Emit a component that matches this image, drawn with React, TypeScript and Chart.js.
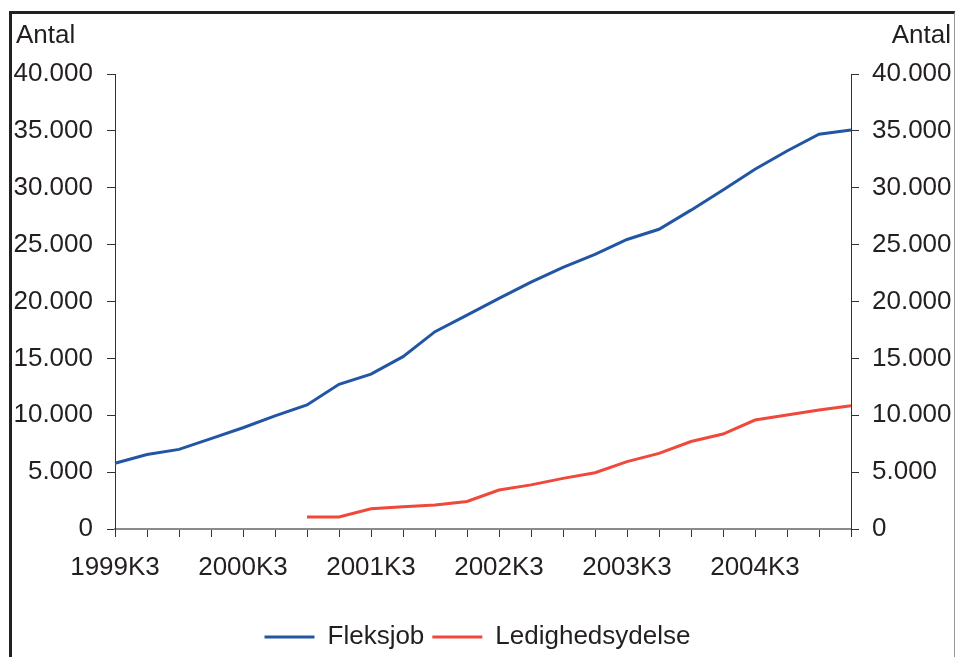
import React, { useEffect, useRef } from "react";
import { Chart, registerables } from "chart.js";

Chart.register(...registerables);

const quarters = [
  "1999K3", "1999K4", "2000K1", "2000K2", "2000K3", "2000K4",
  "2001K1", "2001K2", "2001K3", "2001K4", "2002K1", "2002K2",
  "2002K3", "2002K4", "2003K1", "2003K2", "2003K3", "2003K4",
  "2004K1", "2004K2", "2004K3", "2004K4", "2005K1", "2005K2",
];

const fleksjob = [
  5780, 6550, 7000, 7950, 8900, 9950,
  10900, 12720, 13620, 15150, 17350, 18800,
  20270, 21700, 23000, 24150, 25450, 26350,
  28030, 29800, 31620, 33230, 34700, 35080,
];

const ledighedsydelse = [
  null, null, null, null, null, null,
  1050, 1060, 1780, 1950, 2100, 2420,
  3430, 3880, 4450, 4950, 5920, 6650,
  7690, 8350, 9580, 10020, 10460, 10840,
];

const yTicks = [0, 5000, 10000, 15000, 20000, 25000, 30000, 35000, 40000];
const yTitle = "Antal";
const seriesNames = ["Fleksjob", "Ledighedsydelse"];

const FONT = '"Liberation Sans", Arial, Helvetica, sans-serif';
const TEXT = "#231F20";

const fmt = (v: number) => String(v).replace(/\B(?=(\d{3})+(?!\d))/g, ".");

const antalPlugin = {
  id: "antal",
  afterDraw(chart: any) {
    const ctx = chart.ctx;
    ctx.save();
    ctx.font = `26px ${FONT}`;
    ctx.fillStyle = TEXT;
    ctx.textBaseline = "alphabetic";
    ctx.textAlign = "left";
    ctx.fillText(yTitle, 16, 43);
    ctx.textAlign = "right";
    ctx.fillText(yTitle, 951, 43);
    ctx.restore();
  },
};

export default function App() {
  const ref = useRef<HTMLCanvasElement | null>(null);

  useEffect(() => {
    if (!ref.current) return;
    const yScale = (position: "left" | "right", width: number, pad: number) => ({
      type: "linear" as const,
      position,
      display: true,
      min: 0,
      max: 40000,
      afterBuildTicks: (axis: any) => {
        axis.ticks = yTicks.map((v) => ({ value: v }));
      },
      afterFit: (axis: any) => {
        axis.width = width;
      },
      ticks: {
        callback: (v: any) => fmt(Number(v)),
        font: { size: 26, family: FONT },
        color: TEXT,
        padding: pad,
      },
      grid: {
        display: true,
        drawOnChartArea: false,
        drawTicks: true,
        tickLength: 8,
        color: "#333",
        lineWidth: 1,
      },
      border: { display: true, color: "#333", width: 1 },
    });

    const chart = new Chart(ref.current, {
      type: "line",
      data: {
        labels: quarters,
        datasets: [
          {
            label: seriesNames[0],
            data: fleksjob,
            borderColor: "#2255A4",
            backgroundColor: "#2255A4",
            borderWidth: 3,
            pointRadius: 0,
            tension: 0,
            yAxisID: "y",
          },
          {
            label: seriesNames[1],
            data: ledighedsydelse,
            borderColor: "#F0483A",
            backgroundColor: "#F0483A",
            borderWidth: 3,
            pointRadius: 0,
            tension: 0,
            yAxisID: "y",
          },
        ],
      },
      options: {
        responsive: false,
        animation: false,
        devicePixelRatio: 1,
        layout: { padding: { left: 0, right: 0, top: 74, bottom: -3 } },
        plugins: {
          legend: {
            display: true,
            position: "bottom",
            labels: {
              usePointStyle: true,
              pointStyle: "line",
              pointStyleWidth: 50,
              font: { size: 26, family: FONT },
              color: TEXT,
              padding: 8,
            },
          },
          tooltip: { enabled: false },
        },
        scales: {
          x: {
            type: "category",
            offset: false,
            afterFit: (axis: any) => {
              axis.height = 87;
            },
            ticks: {
              autoSkip: false,
              maxRotation: 0,
              minRotation: 0,
              font: { size: 26, family: FONT },
              color: TEXT,
              padding: 15,
              callback: (_v: any, i: number) => (i % 4 === 0 ? quarters[i] : ""),
            },
            grid: {
              display: true,
              drawOnChartArea: false,
              drawTicks: true,
              tickLength: 8,
              color: "#333",
              lineWidth: 1,
            },
            border: { display: true, color: "#8a8a8a", width: 2 },
          },
          y: yScale("left", 115, 14),
          y1: yScale("right", 104, 13),
        },
      },
      plugins: [antalPlugin],
    });
    return () => chart.destroy();
  }, []);

  return (
    <div style={{ position: "fixed", left: 0, top: 0, width: 955, height: 657, background: "#fff", overflow: "hidden" }}>
      <canvas ref={ref} width={955} height={657} style={{ display: "block" }} />
      <div
        style={{
          position: "absolute",
          left: 9,
          top: 11,
          width: 942,
          height: 700,
          borderLeft: "3px solid #222",
          borderTop: "3px solid #222",
          borderRight: "1px solid #999",
          pointerEvents: "none",
        }}
      />
    </div>
  );
}
